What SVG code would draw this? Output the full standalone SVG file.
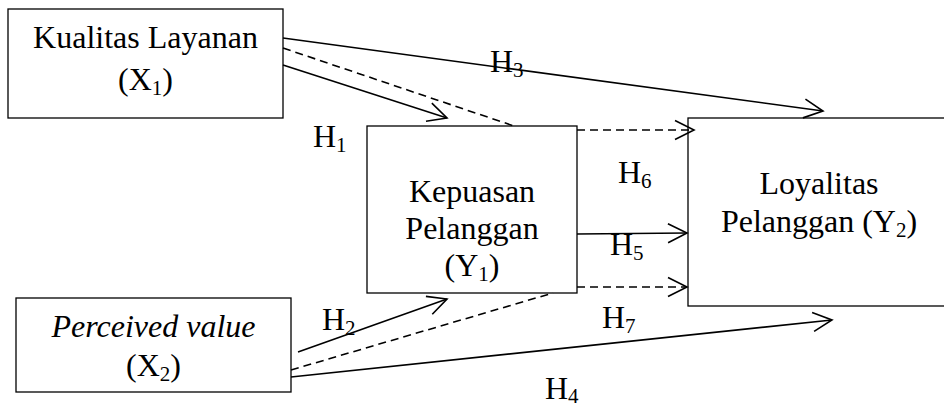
<svg xmlns="http://www.w3.org/2000/svg" width="944" height="408" viewBox="0 0 944 408">
  <style>
    text { font-family: "Liberation Serif", "Times New Roman", serif; font-size: 32px; fill: #000; }
    .c { text-anchor: middle; }
    .it { font-style: italic; }
    .sub { font-size: 21px; }
    .box { fill: #fff; stroke: #000; stroke-width: 1.3; }
    .ln { fill: none; stroke: #000; stroke-width: 1.6; }
    .dash { stroke-dasharray: 8 5; }
  </style>
  <defs>
    <marker id="arr" markerUnits="userSpaceOnUse" markerWidth="24" markerHeight="24" viewBox="-20 -12 24 24" refX="0" refY="0" orient="auto" overflow="visible">
      <path d="M-19,-9.5 L0,0 L-19,9.5" fill="none" stroke="#000" stroke-width="1.6"/>
    </marker>
  </defs>
  <rect width="944" height="408" fill="#fff"/>

  <g id="node-x1">
    <rect class="box" x="8" y="9" width="275" height="109"/>
    <text class="c" x="145.5" y="48">Kualitas Layanan</text>
    <text class="c" x="145.5" y="90">(X<tspan class="sub" dy="5">1</tspan><tspan dy="-5">)</tspan></text>
  </g>

  <g id="node-y1">
    <rect class="box" x="367" y="126" width="210" height="167"/>
    <text class="c" x="472" y="202">Kepuasan</text>
    <text class="c" x="472" y="239">Pelanggan</text>
    <text class="c" x="472" y="276">(Y<tspan class="sub" dy="5">1</tspan><tspan dy="-5">)</tspan></text>
  </g>

  <g id="node-y2">
    <rect class="box" x="688" y="118" width="270" height="188"/>
    <text class="c" x="819" y="194">Loyalitas</text>
    <text class="c" x="819" y="232">Pelanggan (Y<tspan class="sub" dy="5">2</tspan><tspan dy="-5">)</tspan></text>
  </g>

  <g id="node-x2">
    <rect class="box" x="16" y="298" width="275" height="94"/>
    <text class="c it" x="153.5" y="337">Perceived value</text>
    <text class="c" x="153.5" y="376">(X<tspan class="sub" dy="5">2</tspan><tspan dy="-5">)</tspan></text>
  </g>

  <g id="connectors">
    <line class="ln" x1="283" y1="38" x2="823" y2="111" marker-end="url(#arr)"/>
    <line class="ln dash" x1="283" y1="48" x2="514" y2="126"/>
    <line class="ln" x1="283" y1="65" x2="447" y2="118" marker-end="url(#arr)"/>
    <line class="ln dash" x1="577" y1="130" x2="694" y2="130" marker-end="url(#arr)"/>
    <line class="ln" x1="577" y1="234" x2="687" y2="233" marker-end="url(#arr)"/>
    <line class="ln dash" x1="577" y1="287" x2="687" y2="287" marker-end="url(#arr)"/>
    <line class="ln" x1="298" y1="352" x2="447" y2="299" marker-end="url(#arr)"/>
    <line class="ln dash" x1="291" y1="370" x2="553" y2="293"/>
    <line class="ln" x1="291" y1="377" x2="832" y2="320" marker-end="url(#arr)"/>
  </g>

  <g id="labels">
    <text x="313" y="147">H<tspan class="sub" dy="5">1</tspan></text>
    <text x="322" y="330">H<tspan class="sub" dy="5">2</tspan></text>
    <text x="490" y="72">H<tspan class="sub" dy="5">3</tspan></text>
    <text x="545" y="399">H<tspan class="sub" dy="4">4</tspan></text>
    <text x="610" y="255">H<tspan class="sub" dy="5">5</tspan></text>
    <text x="618" y="183">H<tspan class="sub" dy="5">6</tspan></text>
    <text x="602" y="328">H<tspan class="sub" dy="5">7</tspan></text>
  </g>
</svg>
